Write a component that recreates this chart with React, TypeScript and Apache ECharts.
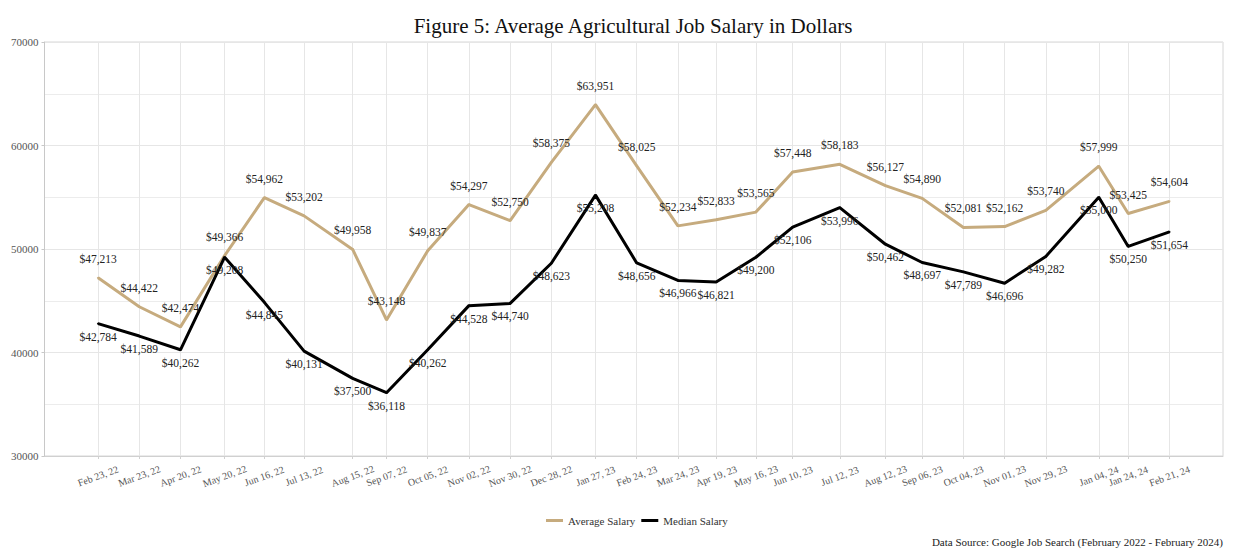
import React, { useEffect, useRef } from "react";
import * as echarts from "echarts";

const dates = [
  "2022-02-23", "2022-03-23", "2022-04-20", "2022-05-20", "2022-06-16", "2022-07-13",
  "2022-08-15", "2022-09-07", "2022-10-05", "2022-11-02", "2022-11-30", "2022-12-28",
  "2023-01-27", "2023-02-24", "2023-03-24", "2023-04-19", "2023-05-16", "2023-06-10",
  "2023-07-12", "2023-08-12", "2023-09-06", "2023-10-04", "2023-11-01", "2023-11-29",
  "2024-01-04", "2024-01-24", "2024-02-21",
];

const averageSalary = [
  47213, 44422, 42474, 49366, 54962, 53202, 49958, 43148, 49837, 54297, 52750, 58375,
  63951, 58025, 52234, 52833, 53565, 57448, 58183, 56127, 54890, 52081, 52162, 53740,
  57999, 53425, 54604,
];

const medianSalary = [
  42784, 41589, 40262, 49208, 44845, 40131, 37500, 36118, 40262, 44528, 44740, 48623,
  55208, 48656, 46966, 46821, 49200, 52106, 53996, 50462, 48697, 47789, 46696, 49282,
  55000, 50250, 51654,
];

const seriesNames = ["Average Salary", "Median Salary"];
const yTicks = [30000, 40000, 50000, 60000, 70000];
const titleText = "Figure 5: Average Agricultural Job Salary in Dollars";
const sourceText = "Data Source: Google Job Search (February 2022 - February 2024)";

const MONTHS = ["Jan", "Feb", "Mar", "Apr", "May", "Jun", "Jul", "Aug", "Sep", "Oct", "Nov", "Dec"];
const toTs = (s: string) => {
  const [y, m, d] = s.split("-").map(Number);
  return Date.UTC(y, m - 1, d);
};
const fmtDate = (ts: number) => {
  const d = new Date(ts);
  const dd = String(d.getUTCDate()).padStart(2, "0");
  const yy = String(d.getUTCFullYear() % 100).padStart(2, "0");
  return `${MONTHS[d.getUTCMonth()]} ${dd}, ${yy}`;
};
const fmtMoney = (v: number) => "$" + v.toLocaleString("en-US");

const FONT = "'Liberation Serif', 'Times New Roman', serif";
const GOLD = "#C6AB7E";

export default function App() {
  const ref = useRef<HTMLDivElement>(null);

  useEffect(() => {
    if (!ref.current) return;
    const chart = echarts.init(ref.current, undefined, { renderer: "svg" });
    const ts = dates.map(toTs);
    const first = ts[0];
    const last = ts[ts.length - 1];
    const pad = (last - first) * 0.05;

    const mkLabel = (pos: string, dist: number) => ({
      show: true,
      position: pos,
      distance: dist,
      fontFamily: FONT,
      fontSize: 11.5,
      color: "#222",
      formatter: (p: any) => fmtMoney(p.value[1]),
    });

    chart.setOption({
      animation: false,
      textStyle: { fontFamily: FONT },
      grid: {
        left: 35,
        top: 34,
        right: 27,
        bottom: 96,
        show: true,
        borderColor: "#d6d6d6",
        borderWidth: 1,
        containLabel: false,
      },
      xAxis: {
        type: "value",
        min: first - pad,
        max: last + pad,
        axisLine: { show: true, lineStyle: { color: "#d0d0d0" } },
        axisTick: { show: true, length: 3, customValues: ts, lineStyle: { color: "#d0d0d0" } },
        splitLine: { show: true, lineStyle: { color: "#e6e6e6" } },
        axisLabel: {
          customValues: ts,
          formatter: (v: number) => fmtDate(v),
          rotate: 20,
          align: "center",
          verticalAlign: "middle",
          margin: 20,
          fontFamily: FONT,
          fontSize: 10,
          color: "#555",
        },
      },
      yAxis: {
        type: "value",
        min: yTicks[0],
        max: yTicks[yTicks.length - 1],
        interval: 10000,
        axisLine: { show: true, lineStyle: { color: "#c8c8c8" } },
        axisTick: { show: true, length: 3, lineStyle: { color: "#c8c8c8" } },
        splitLine: { show: true, lineStyle: { color: "#e6e6e6" } },
        minorTick: { show: false, splitNumber: 2 },
        minorSplitLine: { show: true, lineStyle: { color: "#ececec" } },
        axisLabel: {
          margin: 6,
          fontFamily: FONT,
          fontSize: 11,
          color: "#555",
          formatter: (v: number) => String(v),
        },
      },
      legend: {
        left: 533,
        top: 502,
        icon: "rect",
        itemWidth: 17,
        itemHeight: 3,
        itemGap: 6,
        textStyle: { fontFamily: FONT, fontSize: 11, color: "#333" },
        data: seriesNames,
      },
      graphic: [
        {
          type: "text",
          x: 625,
          y: 18,
          style: {
            text: titleText,
            font: `21px ${FONT}`,
            fill: "#111",
            align: "center",
            verticalAlign: "middle",
          },
        },
        {
          type: "text",
          x: 1215,
          y: 534,
          style: {
            text: sourceText,
            font: `11px ${FONT}`,
            fill: "#222",
            align: "right",
            verticalAlign: "middle",
          },
        },
      ],
      series: [
        {
          name: seriesNames[0],
          type: "line",
          data: ts.map((t, i) => [t, averageSalary[i]]),
          symbol: "circle",
          symbolSize: 2,
          itemStyle: { color: GOLD },
          lineStyle: { color: GOLD, width: 3 },
          label: mkLabel("top", 12),
        },
        {
          name: seriesNames[1],
          type: "line",
          data: ts.map((t, i) => [t, medianSalary[i]]),
          symbol: "circle",
          symbolSize: 2,
          itemStyle: { color: "#000" },
          lineStyle: { color: "#000", width: 3 },
          label: mkLabel("bottom", 6),
        },
      ],
    });
    return () => chart.dispose();
  }, []);

  return (
    <div
      ref={ref}
      style={{
        width: 1242,
        height: 544,
        boxShadow: "-1px -1px 0 #a8a8a8",
      }}
    />
  );
}
